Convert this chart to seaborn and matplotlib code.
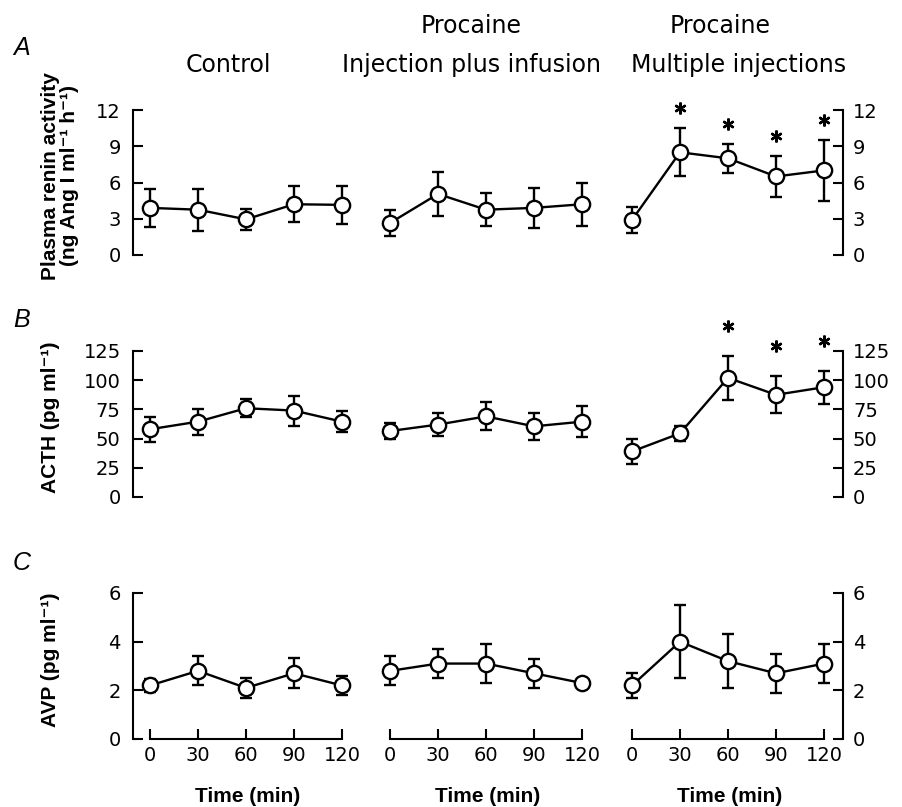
import numpy as np
import pandas as pd
import seaborn as sns
import matplotlib.pyplot as plt
from matplotlib.transforms import offset_copy

# time points (min) and the three experimental groups
times = [0, 30, 60, 90, 120]
groups = ["Control", "Injection plus infusion", "Multiple injections"]

# plasma renin activity, mean and s.e.m. per group
renin_mean = [[3.9, 3.75, 2.95, 4.2, 4.15],
              [2.65, 5.05, 3.75, 3.9, 4.2],
              [2.9, 8.5, 8.0, 6.5, 7.0]]
renin_sem = [[1.55, 1.75, 0.85, 1.5, 1.6],
             [1.1, 1.8, 1.35, 1.65, 1.8],
             [1.1, 2.0, 1.2, 1.7, 2.5]]
renin_sig = [[], [], [30, 60, 90, 120]]

# ACTH
acth_mean = [[58, 64.5, 76, 74, 64.5],
             [56.5, 62, 69, 60.5, 64.5],
             [39, 54.5, 102, 87.5, 94]]
acth_sem = [[10.8, 11, 7.9, 12.8, 8.8],
            [7.2, 9.8, 12, 11.5, 13],
            [10.5, 6.5, 19, 16, 14]]
acth_sig = [[], [], [60, 90, 120]]

# AVP
avp_mean = [[2.2, 2.8, 2.1, 2.7, 2.2],
            [2.8, 3.1, 3.1, 2.7, 2.3],
            [2.2, 4.0, 3.2, 2.7, 3.1]]
avp_sem = [[0.25, 0.6, 0.42, 0.62, 0.4],
           [0.6, 0.6, 0.8, 0.6, 0.1],
           [0.5, 1.5, 1.1, 0.8, 0.8]]
avp_sig = [[], [], []]

renin_ticks = [0, 3, 6, 9, 12]
acth_ticks = [0, 25, 50, 75, 100, 125]
avp_ticks = [0, 2, 4, 6]

rows = [(renin_mean, renin_sem, renin_sig, renin_ticks, 20),
        (acth_mean, acth_sem, acth_sig, acth_ticks, 30),
        (avp_mean, avp_sem, avp_sig, avp_ticks, 20)]

sns.set_theme(style="ticks", rc={'text.color': 'black', 'axes.labelcolor': 'black',
                                 'xtick.color': 'black', 'ytick.color': 'black',
                                 'axes.edgecolor': 'black', 'axes.linewidth': 1.5})
plt.rcParams['font.family'] = ['DejaVu Sans']

W, H = 903, 807
fig = plt.figure(figsize=(W / 100, H / 100), dpi=100)

x0s = [150, 390, 632]              # pixel of t=0 in each column
rows_px = [(110, 255), (351, 497), (593, 739)]
lab = dict(family=['Liberation Sans', 'DejaVu Sans'], fontweight='bold')

for r, (means, sems, sigs, yt, star_off) in enumerate(rows):
    top, bot = rows_px[r]
    for c in range(3):
        ax = fig.add_axes([(x0s[c] - 16.8) / W, 1 - bot / H, 228 / W, (bot - top) / H])
        df = pd.DataFrame({'time': times, 'mean': means[c], 'sem': sems[c]})
        ax.errorbar(df['time'], df['mean'], yerr=df['sem'], fmt='none', ecolor='black',
                    elinewidth=1.7, capsize=4.5, capthick=1.7, zorder=2, clip_on=False)
        sns.lineplot(data=df, x='time', y='mean', ax=ax, color='black', lw=1.7,
                     marker='o', markersize=11, markerfacecolor='white',
                     markeredgecolor='black', markeredgewidth=1.7, zorder=3, clip_on=False)
        ax.set_xlim(-10.5, 132)
        ax.set_ylim(yt[0], yt[-1])
        ax.set_xlabel('')
        ax.set_ylabel('')
        ax.patch.set_alpha(0)

        # significance stars above the error bars
        trans = offset_copy(ax.transData, fig=fig, y=star_off, units='dots')
        for t in sigs[c]:
            i = times.index(t)
            ax.plot(t, means[c][i] + sems[c][i], marker=(6, 2, 0), ms=8.5, mew=1.7,
                    color='black', transform=trans, clip_on=False)

        ax.spines['top'].set_visible(False)
        ax.spines['left'].set_visible(c == 0)
        ax.spines['right'].set_visible(c == 2)
        ax.set_yticks(yt)
        if c == 0:
            ax.tick_params(axis='y', direction='in', length=7, width=1.5, pad=9,
                           labelsize=14, left=True, right=False)
        elif c == 2:
            ax.yaxis.tick_right()
            ax.tick_params(axis='y', direction='in', length=7, width=1.5, pad=7,
                           labelsize=14)
        else:
            ax.tick_params(axis='y', left=False, right=False, labelleft=False)

        if r == 2:
            ax.spines['bottom'].set_bounds(0, 120)
            ax.set_xticks(times)
            ax.tick_params(axis='x', direction='in', length=7, width=1.5, pad=5,
                           labelsize=14)
            ax.set_xlabel('Time (min)', fontsize=15, labelpad=16, **lab)
        else:
            ax.spines['bottom'].set_visible(False)
            ax.set_xticks([])

# column headings
fig.text(228 / W, 1 - 72 / H, "Control", fontsize=17, ha='center', va='baseline')
fig.text(471 / W, 1 - 33 / H, "Procaine", fontsize=17, ha='center', va='baseline')
fig.text(472 / W, 1 - 72 / H, "Injection plus infusion", fontsize=17, ha='center', va='baseline')
fig.text(720 / W, 1 - 33 / H, "Procaine", fontsize=17, ha='center', va='baseline')
fig.text(739 / W, 1 - 72 / H, "Multiple injections", fontsize=17, ha='center', va='baseline')

# panel letters
for letter, y in [("A", 48), ("B", 320), ("C", 563)]:
    fig.text(22 / W, 1 - y / H, letter, fontsize=18, style='italic', ha='center', va='center',
             family=['Liberation Sans', 'DejaVu Sans'])

# y-axis labels
fig.text(60 / W, 1 - 176 / H, "Plasma renin activity\n(ng Ang I ml\u207b\u00b9 h\u207b\u00b9)",
         rotation=90, ha='center', va='center', fontsize=15, linespacing=1.05, **lab)
fig.text(51 / W, 1 - 417 / H, "ACTH (pg ml\u207b\u00b9)", rotation=90, ha='center',
         va='center', fontsize=15, **lab)
fig.text(51 / W, 1 - 660 / H, "AVP (pg ml\u207b\u00b9)", rotation=90, ha='center',
         va='center', fontsize=15, **lab)

fig.savefig("out.png", dpi=100)
